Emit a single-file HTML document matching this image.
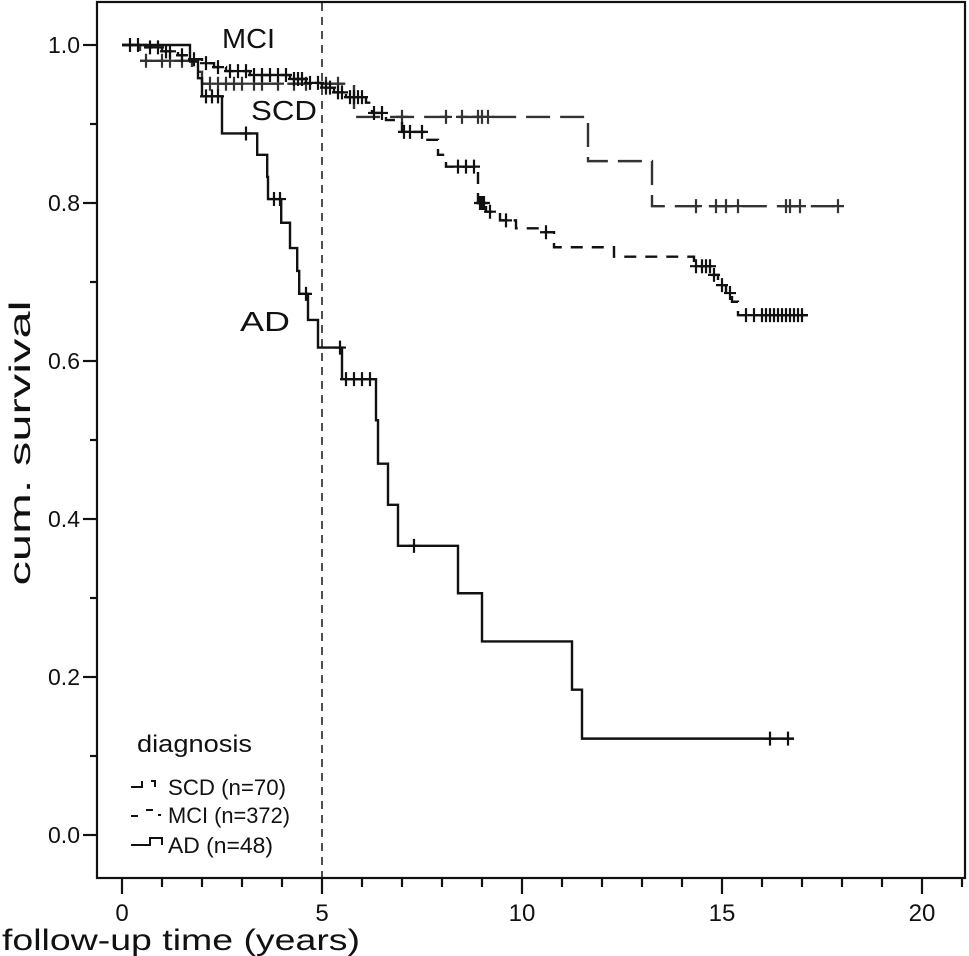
<!DOCTYPE html>
<html><head><meta charset="utf-8"><style>
html,body{margin:0;padding:0;background:#fff}
svg{display:block}
text{font-family:"Liberation Sans",Arial,sans-serif;fill:#111}
</style></head><body>
<svg id="chart" width="969" height="956" viewBox="0 0 969 956" xmlns="http://www.w3.org/2000/svg">
<rect x="97" y="2" width="868" height="876" fill="none" stroke="#111" stroke-width="2.2"/>
<g id="axes"></g>
<line x1="322" y1="3" x2="322" y2="877" stroke="#222" stroke-width="1.6" stroke-dasharray="8,6"/>
<g id="series"></g>
<text x="222" y="48" font-size="28" textLength="53" lengthAdjust="spacingAndGlyphs">MCI</text>
<text x="251" y="120" font-size="28" textLength="66" lengthAdjust="spacingAndGlyphs">SCD</text>
<text x="240" y="331" font-size="28" textLength="50" lengthAdjust="spacingAndGlyphs">AD</text>
<text transform="translate(30,443) rotate(-90)" text-anchor="middle" font-size="30" textLength="285" lengthAdjust="spacingAndGlyphs">cum. survival</text>
<text x="2" y="950" font-size="30" textLength="358" lengthAdjust="spacingAndGlyphs">follow-up time (years)</text>
<g>
<text x="137" y="752" font-size="24" textLength="115" lengthAdjust="spacingAndGlyphs">diagnosis</text>
<path d="M131,787 H142 V781 M151,781 H155 V787" fill="none" stroke="#111" stroke-width="2"/>
<text x="168" y="795" font-size="22" textLength="118" lengthAdjust="spacingAndGlyphs">SCD (n=70)</text>
<path d="M131,816 H138 M146,810 H153 M158,815 H161" fill="none" stroke="#111" stroke-width="2"/>
<text x="168" y="823" font-size="22" textLength="122" lengthAdjust="spacingAndGlyphs">MCI (n=372)</text>
<path d="M131,845 H150 V838 H162 V845" fill="none" stroke="#111" stroke-width="2"/>
<text x="168" y="853" font-size="22" textLength="105" lengthAdjust="spacingAndGlyphs">AD (n=48)</text>
</g>
</svg>
<script>
const xTicks=[0,5,10,15,20];
const yTicks=[0.0,0.2,0.4,0.6,0.8,1.0];
const yTickLabels=["0.0","0.2","0.4","0.6","0.8","1.0"];
// Step times and survival values after each step
const scdTimes=[0,0.45,1.75,2.0,5.8,11.65,13.25];
const scdSurv=[1.0,0.98,0.966,0.951,0.909,0.853,0.796];
const scdEnd=17.9;
const scdCensor=[0.6,1.0,1.2,1.5,2.2,2.4,2.6,2.8,3.0,3.3,3.5,3.9,4.3,4.6,5.1,5.4,7.0,8.1,8.5,8.9,9.0,9.15,14.35,14.85,15.1,15.4,16.6,16.7,16.95,17.9];
const mciTimes=[0,0.6,1.0,1.4,1.7,2.0,2.3,2.6,3.2,4.2,4.6,5.0,5.3,5.6,6.1,6.25,6.6,7.0,7.6,7.9,8.1,8.9,9.1,9.45,9.85,10.45,10.8,12.3,14.3,14.75,14.9,15.1,15.25,15.4];
const mciSurv=[1.0,0.997,0.992,0.987,0.982,0.977,0.972,0.967,0.962,0.957,0.952,0.946,0.94,0.934,0.927,0.914,0.905,0.89,0.88,0.861,0.846,0.8,0.789,0.778,0.768,0.763,0.744,0.732,0.72,0.709,0.696,0.686,0.675,0.658];
const mciEnd=17.15;
const mciCensor=[0.2,0.4,0.7,0.9,1.1,1.2,1.5,1.8,2.1,2.4,2.7,2.9,3.1,3.3,3.5,3.7,3.9,4.1,4.3,4.4,4.5,4.7,4.9,5.1,5.2,5.4,5.5,5.7,5.8,5.9,6.0,6.3,6.5,7.05,7.2,7.5,8.4,8.6,8.8,8.95,9.0,9.05,9.2,9.6,10.6,14.35,14.5,14.6,14.7,14.8,15.0,15.2,15.6,15.8,16.0,16.1,16.2,16.3,16.4,16.5,16.6,16.7,16.8,16.9,17.0];
const adTimes=[0,1.7,1.9,2.0,2.5,3.38,3.63,3.65,3.98,4.2,4.38,4.43,4.65,4.9,5.5,6.35,6.4,6.65,6.9,8.4,9.0,11.25,11.5];
const adSurv=[1.0,0.979,0.958,0.935,0.888,0.861,0.833,0.805,0.775,0.743,0.714,0.685,0.652,0.617,0.577,0.525,0.47,0.418,0.366,0.306,0.245,0.184,0.122];
const adEnd=16.8;
const adCensor=[2.1,2.25,2.4,3.1,3.8,3.95,4.6,5.45,5.6,5.8,6.0,6.2,7.3,16.2,16.65];

const xS=t=>122+t*40;
const yS=s=>835-s*790;
const NS="http://www.w3.org/2000/svg";
function mk(tag,attrs,parent){const e=document.createElementNS(NS,tag);for(const k in attrs)e.setAttribute(k,attrs[k]);parent.appendChild(e);return e;}
const axes=document.getElementById('axes');
for(let t=0;t<=21;t++){
  const major=t%5===0;
  const l=mk('line',{x1:xS(t),x2:xS(t),y1:878,y2:major?894:887,stroke:'#111','stroke-width':2.2},axes);
  
  
}
xTicks.forEach(v=>{
  const tx=mk('text',{x:xS(v),y:921,'text-anchor':'middle','font-size':24},axes);
  tx.textContent=String(v);
  
  
});
for(let i=0;i<=10;i++){
  const v=i/10;const major=i%2===0;
  const l=mk('line',{x1:major?83:90,x2:97,y1:yS(v),y2:yS(v),stroke:'#111','stroke-width':2.2},axes);
  
  
}
yTicks.forEach((v,i)=>{
  const tx=mk('text',{x:80,y:yS(v)+8,'text-anchor':'end','font-size':23},axes);
  tx.textContent=yTickLabels[i];
  
  
});
const series=document.getElementById('series');
function survAt(times,surv,t){let s=surv[0];for(let i=0;i<times.length;i++){if(times[i]<=t)s=surv[i];}return s;}
function draw(name,times,surv,end,censor,dash,color){
  let d='M'+xS(times[0])+','+yS(surv[0]);
  for(let i=1;i<times.length;i++){d+=' H'+xS(times[i])+' V'+yS(surv[i]);}
  d+=' H'+xS(end);
  const p=mk('path',{d:d,fill:'none',stroke:color,'stroke-width':2.4,'stroke-dasharray':dash},series);
  
  
  censor.forEach(t=>{
    const x=xS(t),y=yS(survAt(times,surv,t));
    const c=mk('path',{d:`M${x-6},${y} H${x+6} M${x},${y-7} V${y+7}`,stroke:color,'stroke-width':2.2},series);
    
    
  });
}
draw('scd',scdTimes,scdSurv,scdEnd,scdCensor,'24,10','#333');
draw('mci',mciTimes,mciSurv,mciEnd,mciCensor,'12,9','#111');
draw('ad',adTimes,adSurv,adEnd,adCensor,'none','#111');
</script>
</body></html>
